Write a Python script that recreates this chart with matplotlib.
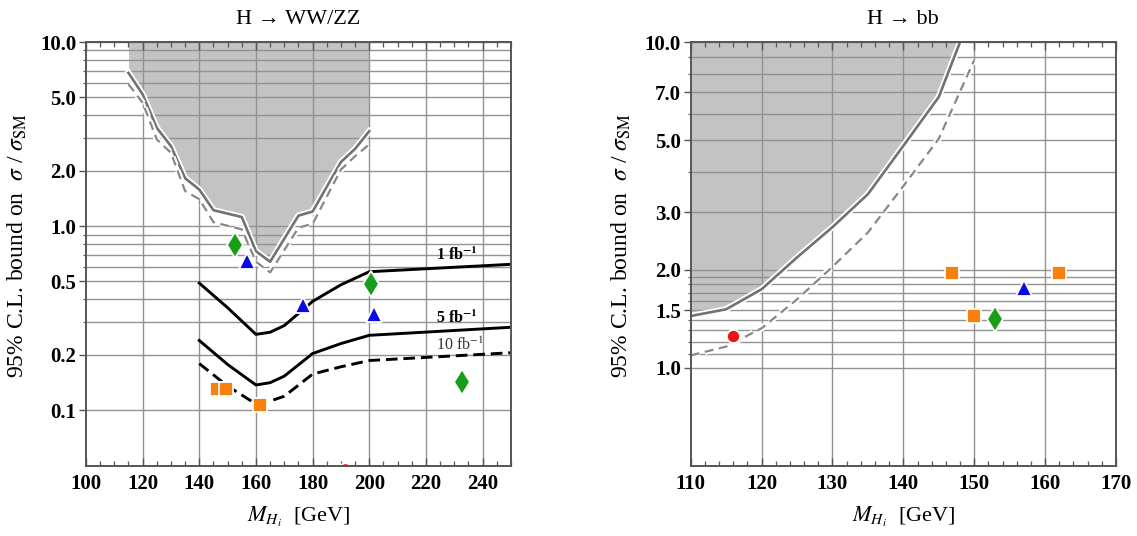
import numpy as np
import matplotlib
matplotlib.use("Agg")
import matplotlib.pyplot as plt
import matplotlib.patheffects as pe
from matplotlib.ticker import FixedLocator, NullFormatter

plt.rcParams["font.family"] = ["Liberation Serif", "DejaVu Serif"]
plt.rcParams["mathtext.fontset"] = "stix"

# ---------------- H -> WW/ZZ ----------------
ww_x_obs = [115, 120, 125, 130, 135, 140, 145, 155, 160, 165, 175, 180, 190, 195, 200]
ww_obs = [6.8, 5.2, 3.42, 2.72, 1.82, 1.58, 1.22, 1.12, 0.73, 0.64, 1.14, 1.2, 2.23, 2.63, 3.28]
ww_exp = [5.9, 4.68, 2.96, 2.5, 1.55, 1.4, 1.05, 0.96, 0.64, 0.56, 0.98, 1.03, 2.03, 2.4, 2.78]

lum_x = [140, 150, 160, 165, 170, 180, 190, 200, 250]
lum_1fb = [0.49, 0.36, 0.258, 0.265, 0.288, 0.39, 0.48, 0.565, 0.62]
lum_5fb = [0.239, 0.177, 0.137, 0.141, 0.153, 0.203, 0.23, 0.255, 0.282]
lum_10fb = [0.179, 0.135, 0.108, 0.112, 0.119, 0.157, 0.172, 0.186, 0.205]

ww_diamond_x = [152.6, 200.6, 232.6]
ww_diamond_y = [0.79, 0.486, 0.142]
ww_triangle_x = [156.7, 176.7, 201.8]
ww_triangle_y = [0.645, 0.373, 0.331]
ww_square_x = [146.1, 149.6, 161.4]
ww_square_y = [0.13, 0.13, 0.106]
ww_circle_x = [191.4]
ww_circle_y = [0.048]

ww_xticks = [100, 120, 140, 160, 180, 200, 220, 240]
ww_yticks = [0.1, 0.2, 0.5, 1.0, 2.0, 5.0, 10.0]
ww_ytick_labels = ["0.1", "0.2", "0.5", "1.0", "2.0", "5.0", "10.0"]

# ---------------- H -> bb ----------------
bb_x_obs = [110, 115, 120, 125, 130, 135, 140, 145, 148, 150]
bb_obs = [1.44, 1.51, 1.74, 2.18, 2.7, 3.41, 4.8, 6.78, 10.0, 13.0]
bb_x_exp = [110, 115, 120, 125, 130, 135, 140, 145, 150]
bb_exp = [1.09, 1.16, 1.32, 1.62, 2.04, 2.6, 3.61, 5.05, 8.8]

bb_circle_x = [115.9]
bb_circle_y = [1.25]
bb_square_x = [146.8, 161.9, 149.9]
bb_square_y = [1.95, 1.95, 1.44]
bb_triangle_x = [157.0]
bb_triangle_y = [1.76]
bb_diamond_x = [152.9]
bb_diamond_y = [1.41]

bb_xticks = [110, 120, 130, 140, 150, 160, 170]
bb_yticks = [1.0, 1.5, 2.0, 3.0, 5.0, 7.0, 10.0]
bb_ytick_labels = ["1.0", "1.5", "2.0", "3.0", "5.0", "7.0", "10.0"]

FILL = "#c3c3c3"
GRID = "#929292"
CURVE = "#727272"
SPINE = "#555555"
C_GREEN = "#1a9e1a"
C_BLUE = "#0a0ae6"
C_ORANGE = "#f7800e"
C_RED = "#ee1515"

YLABEL = r"95% C.L. bound on  $\sigma$ / $\sigma_{\mathrm{SM}}$"
XLABEL = r"$M_{H_i}$  [GeV]"

halo = [pe.withStroke(linewidth=4.5, foreground="white")]

fig = plt.figure(figsize=(11.37, 5.36), dpi=100)
ax1 = fig.add_axes([0.0756, 0.1315, 0.3738, 0.790])
ax2 = fig.add_axes([0.6075, 0.1315, 0.374, 0.790])


def style_axes(ax, xlim, ylim, xticks, xminor, yticks, ylabels, hgrid, vgrid):
    ax.set_yscale("log")
    ax.set_xlim(*xlim)
    ax.set_ylim(*ylim)
    for v in hgrid:
        ax.axhline(v, color=GRID, lw=1.0, zorder=1)
    for v in vgrid:
        ax.axvline(v, color=GRID, lw=1.0, zorder=1)
    ax.xaxis.set_major_locator(FixedLocator(xticks))
    ax.xaxis.set_minor_locator(FixedLocator(xminor))
    ax.yaxis.set_major_locator(FixedLocator(yticks))
    ax.yaxis.set_minor_locator(FixedLocator(hgrid))
    ax.yaxis.set_minor_formatter(NullFormatter())
    ax.set_yticklabels(ylabels)
    ax.set_xticklabels([str(t) for t in xticks])
    ax.tick_params(axis="x", which="both", direction="in", top=True, bottom=True,
                   color=SPINE, labelsize=15, pad=6)
    ax.tick_params(axis="x", which="major", length=6, width=1.0)
    ax.tick_params(axis="x", which="minor", length=3.5, width=0.9)
    ax.tick_params(axis="y", which="both", direction="out", left=True, right=False,
                   color=SPINE, labelsize=15, pad=2)
    ax.tick_params(axis="y", which="major", length=5, width=1.0)
    ax.tick_params(axis="y", which="minor", length=2.5, width=0.8)
    for lab in ax.get_xticklabels() + ax.get_yticklabels():
        lab.set_fontweight("bold")
    for s in ax.spines.values():
        s.set_color(SPINE)
        s.set_linewidth(1.4)
        s.set_zorder(6)
    ax.set_axisbelow(False)


# ----- left panel -----
ww_hgrid = [0.1, 0.2, 0.3, 0.4, 0.5, 0.6, 0.7, 0.8, 0.9, 1, 2, 3, 4, 5, 6, 7, 8, 9, 10]
style_axes(ax1, (100, 250), (0.05, 10.0), ww_xticks, list(range(100, 251, 5)),
           ww_yticks, ww_ytick_labels, ww_hgrid, [120, 140, 160, 180, 200, 220, 240])

ax1.fill_between(ww_x_obs, ww_obs, 10.0, color=FILL, lw=0, zorder=0)
ax1.plot(ww_x_obs, ww_obs, color=CURVE, lw=1.9, zorder=3, path_effects=halo)
ax1.plot(ww_x_obs, ww_exp, color="#888888", lw=1.6, ls=(0, (4, 2.5)), zorder=3,
         path_effects=halo)

ax1.plot(lum_x, lum_1fb, color="black", lw=2.1, zorder=3)
ax1.plot(lum_x, lum_5fb, color="black", lw=2.1, zorder=3)
ax1.plot(lum_x, lum_10fb, color="black", lw=2.1, ls=(0, (4, 2)), zorder=3)

ax1.text(231, 0.69, r"1 fb$^{\mathbf{-1}}$", fontsize=11.5, fontweight="bold",
         ha="center", va="center", zorder=5)
ax1.text(231, 0.315, r"5 fb$^{\mathbf{-1}}$", fontsize=11.5, fontweight="bold",
         ha="center", va="center", zorder=5)
ax1.text(232, 0.224, r"10 fb$^{-1}$", fontsize=11.5, color="#333333",
         ha="center", va="center", zorder=5)

mk = dict(ls="none", mec="white", mew=1.3, zorder=4)
ax1.plot(ww_diamond_x, ww_diamond_y, marker="d", ms=13, color=C_GREEN, **mk)
ax1.plot(ww_triangle_x, ww_triangle_y, marker="^", ms=11, color=C_BLUE, **mk)
ax1.plot(ww_square_x, ww_square_y, marker="s", ms=10, color=C_ORANGE, **mk)
ax1.plot(ww_circle_x, ww_circle_y, marker="o", ms=9, color=C_RED, **mk)

ax1.set_title("H → WW/ZZ", fontsize=16, pad=13)
ax1.set_xlabel(XLABEL, fontsize=16, labelpad=8)
ax1.set_ylabel(YLABEL, fontsize=17)
ax1.yaxis.set_label_coords(-0.133, 0.52)

# ----- right panel -----
bb_hgrid = [1.0, 1.1, 1.2, 1.3, 1.4, 1.5, 1.6, 1.7, 1.8, 1.9, 2, 3, 4, 5, 6, 7, 8, 9, 10]
style_axes(ax2, (110, 170), (0.5, 10.0), bb_xticks, list(range(110, 171, 2)),
           bb_yticks, bb_ytick_labels, bb_hgrid, [120, 130, 140, 150, 160])

ax2.fill_between(bb_x_obs, bb_obs, 10.0, color=FILL, lw=0, zorder=0)
ax2.plot(bb_x_obs, bb_obs, color=CURVE, lw=1.9, zorder=3, path_effects=halo)
ax2.plot(bb_x_exp, bb_exp, color="#888888", lw=1.6, ls=(0, (4, 2.5)), zorder=3,
         path_effects=halo)

ax2.plot(bb_circle_x, bb_circle_y, marker="o", ms=9.5, color=C_RED, **mk)
ax2.plot(bb_square_x, bb_square_y, marker="s", ms=10, color=C_ORANGE, **mk)
ax2.plot(bb_triangle_x, bb_triangle_y, marker="^", ms=11, color=C_BLUE, **mk)
ax2.plot(bb_diamond_x, bb_diamond_y, marker="d", ms=13, color=C_GREEN, **mk)

ax2.set_title("H → bb", fontsize=16, pad=13)
ax2.set_xlabel(XLABEL, fontsize=16, labelpad=8)
ax2.set_ylabel(YLABEL, fontsize=17)
ax2.yaxis.set_label_coords(-0.136, 0.52)

fig.savefig("out.png", dpi=100)
